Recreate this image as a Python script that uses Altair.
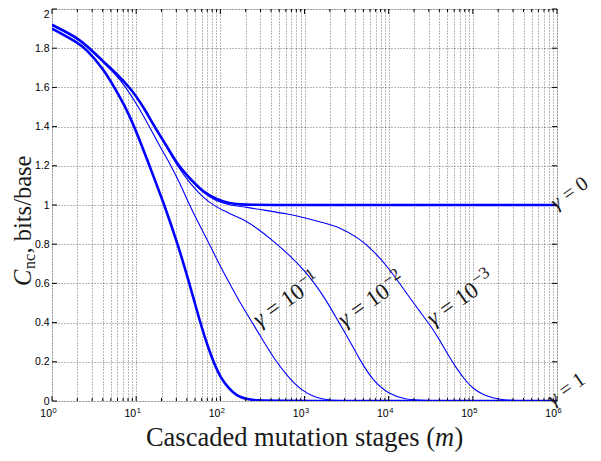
import altair as alt
import pandas as pd

# ---------------- data ----------------
# log10(m) positions and capacity values C_nc (bits/base) per curve
lg_g0 = [0, 0.301, 0.445, 0.602, 0.778, 0.92, 1.0, 1.1, 1.217, 1.35, 1.5, 1.65, 1.8, 1.95, 2.1, 2.3, 2.5, 6]
c_g0 = [1.92, 1.855, 1.80, 1.735, 1.665, 1.60, 1.555, 1.49, 1.40, 1.31, 1.20, 1.13, 1.065, 1.03, 1.008, 1.001, 1.0, 1.0]

lg_g3 = [0, 0.301, 0.445, 0.602, 0.778, 0.92, 1.0, 1.1, 1.217, 1.35, 1.5, 1.65, 1.8, 1.95, 2.1, 2.3, 2.5,
         2.82, 3.0, 3.216, 3.415, 3.65, 3.81, 4.0, 4.21, 4.40, 4.52, 4.60, 4.72, 4.80, 4.92, 5.0, 5.12, 5.31, 5.5, 6]
c_g3 = [1.92, 1.855, 1.80, 1.735, 1.665, 1.60, 1.555, 1.49, 1.40, 1.31, 1.20, 1.125, 1.06, 1.02, 1.0, 0.99, 0.975,
        0.953, 0.935, 0.91, 0.887, 0.83, 0.77, 0.68, 0.55, 0.44, 0.37, 0.315, 0.225, 0.17, 0.10, 0.065, 0.03, 0.008, 0.0, 0.0]

lg_g2 = [0, 0.301, 0.445, 0.602, 0.778, 0.92, 1.0, 1.1, 1.217, 1.35, 1.5, 1.65, 1.8, 1.95, 2.05, 2.167, 2.3, 2.425,
         2.62, 2.82, 3.0, 3.12, 3.25, 3.41, 3.534, 3.65, 3.81, 4.0, 4.2, 4.4, 6]
c_g2 = [1.92, 1.855, 1.80, 1.735, 1.665, 1.60, 1.555, 1.49, 1.40, 1.305, 1.19, 1.105, 1.035, 0.99, 0.97, 0.945, 0.92, 0.885,
        0.82, 0.745, 0.665, 0.60, 0.52, 0.40, 0.31, 0.215, 0.105, 0.035, 0.008, 0.0, 0.0]

lg_g1 = [0, 0.301, 0.477, 0.602, 0.778, 0.861, 1.0, 1.158, 1.3, 1.415, 1.52, 1.633, 1.75, 1.87, 1.99, 2.11, 2.25,
         2.40, 2.52, 2.64, 2.80, 2.96, 3.12, 3.3, 3.5, 6]
c_g1 = [1.915, 1.85, 1.785, 1.73, 1.655, 1.61, 1.52, 1.40, 1.285, 1.20, 1.11, 1.0, 0.90, 0.80, 0.695, 0.60, 0.49,
        0.385, 0.30, 0.215, 0.125, 0.055, 0.018, 0.003, 0.0, 0.0]

lg_gone = [0, 0.301, 0.406, 0.602, 0.742, 0.86, 0.98, 1.158, 1.336, 1.494, 1.633, 1.76, 1.85, 1.918, 2.0, 2.108,
           2.2, 2.3, 2.45, 2.6, 6]
c_gone = [1.90, 1.83, 1.795, 1.70, 1.60, 1.51, 1.40, 1.20, 1.0, 0.80, 0.60, 0.40, 0.28, 0.20, 0.12, 0.06,
          0.025, 0.01, 0.002, 0.0, 0.0]

series_names = ["gamma=0", "gamma=1e-3", "gamma=1e-2", "gamma=1e-1", "gamma=1"]
series_lg = [lg_g0, lg_g3, lg_g2, lg_g1, lg_gone]
series_c = [c_g0, c_g3, c_g2, c_g1, c_gone]
series_weight = ["thick", "thin", "thin", "thin", "thick"]

# curve labels
exp_labels = ["\u22121", "\u22122", "\u22123"]
exp_label_lg = [2.464, 3.474, 4.531]
exp_label_c = [0.375, 0.375, 0.382]
end_labels = ["= 0", "= 1"]
end_label_lg = [5.99, 5.955]
end_label_c = [0.975, -0.025]

# axes
decades = [1, 10, 100, 1000, 10000, 100000, 1000000]
decade_exp = ["0", "1", "2", "3", "4", "5", "6"]
minor_mult = [2, 3, 4, 5, 6, 7, 8, 9]
y_ticks = [0, 0.2, 0.4, 0.6, 0.8, 1, 1.2, 1.4, 1.6, 1.8, 2]

# ---------------- tables ----------------
rows = []
for name, lg, c, w in zip(series_names, series_lg, series_c, series_weight):
    for a, b in zip(lg, c):
        rows.append({"m": 10 ** a, "C": b, "series": name, "w": w})
df = pd.DataFrame(rows)

minor = [j * d for d in decades[:-1] for j in minor_mult]
grid_vals = sorted(decades + minor)
df_major = pd.DataFrame({"m": decades, "e": decade_exp})
df_minor = pd.DataFrame({"m": minor})
df_y = pd.DataFrame({"C": y_ticks})
df_exp = pd.DataFrame({"m": [10 ** v for v in exp_label_lg], "C": exp_label_c, "s": exp_labels})
df_end = pd.DataFrame({"m": [10 ** v for v in end_label_lg], "C": end_label_c, "s": end_labels})

# whole svg: 44 + 505 + 36 = 585 wide, 1 + 392 + 52 = 445 tall (fits inside the 8px page margins)
W, H = 505, 392
BLUE = "#0000ff"
SERIF = "Liberation Serif"
SANS = "Liberation Sans"
INK = "#1a1a1a"

xscale = alt.Scale(type="log", domain=[1, 1e6], nice=False)
yscale = alt.Scale(domain=[0, 2], nice=False, zero=False)
x_enc = alt.X("m:Q", scale=xscale,
              axis=alt.Axis(values=grid_vals, grid=True, labels=False, ticks=False, domain=False, title=None,
                            gridDash=[1, 2], gridColor="#000000", gridOpacity=0.55, gridWidth=1))
y_enc = alt.Y("C:Q", scale=yscale,
              axis=alt.Axis(values=y_ticks, grid=True, format="~g", labelFont=SANS, labelFontSize=10.5,
                            labelColor="#000000", labelPadding=3, ticks=False, domain=False, title=None,
                            labelBaseline=alt.condition("datum.value == 2", alt.value("top"), alt.value("middle")),
                            gridDash=[1, 2], gridColor="#000000", gridOpacity=0.55, gridWidth=1))

thin = alt.Chart(df).transform_filter(alt.datum.w == "thin").mark_line(
    color=BLUE, strokeWidth=1.1, interpolate="basis", clip=True
).encode(x=x_enc, y=y_enc, detail="series:N")
thick = alt.Chart(df).transform_filter(alt.datum.w == "thick").mark_line(
    color=BLUE, strokeWidth=2.6, interpolate="basis", clip=True
).encode(x=x_enc, y=y_enc, detail="series:N")

# inward ticks
tk = dict(color="#000000", strokeWidth=1)
bot_major = alt.Chart(df_major).mark_rule(**tk).encode(x=x_enc, y=alt.value(H), y2=alt.value(H - 5))
bot_minor = alt.Chart(df_minor).mark_rule(**tk).encode(x=x_enc, y=alt.value(H), y2=alt.value(H - 3))
top_major = alt.Chart(df_major).mark_rule(**tk).encode(x=x_enc, y=alt.value(0), y2=alt.value(5))
top_minor = alt.Chart(df_minor).mark_rule(**tk).encode(x=x_enc, y=alt.value(0), y2=alt.value(3))
left_t = alt.Chart(df_y).mark_rule(**tk).encode(y=y_enc, x=alt.value(0), x2=alt.value(5))
right_t = alt.Chart(df_y).mark_rule(**tk).encode(y=y_enc, x=alt.value(W), x2=alt.value(W - 5))

# x tick labels 10^k
ten = alt.Chart(df_major).mark_text(align="right", baseline="alphabetic", font=SANS, fontSize=10.5,
                                    color="#000000").encode(x=x_enc, y=alt.value(H + 16), text=alt.value("10"))
expo = alt.Chart(df_major).mark_text(align="left", baseline="alphabetic", font=SANS, fontSize=7.5, dx=0.5,
                                     color="#000000").encode(x=x_enc, y=alt.value(H + 11.5), text="e:N")

# axis titles
t_df = pd.DataFrame({"a": ["Cascaded mutation stages ("], "b": ["m"], "c": [")"],
                     "y1": ["C"], "y2": ["nc"], "y3": [", bits/base"]})
XA = W / 2 + 130.6
TY = H + 45
tx1 = alt.Chart(t_df).mark_text(align="right", baseline="alphabetic", font=SERIF, fontSize=26.5,
                                color=INK).encode(x=alt.value(XA), y=alt.value(TY), text="a:N")
tx2 = alt.Chart(t_df).mark_text(align="left", baseline="alphabetic", font=SERIF, fontSize=26.5, fontStyle="italic",
                                color=INK).encode(x=alt.value(XA), y=alt.value(TY), text="b:N")
tx3 = alt.Chart(t_df).mark_text(align="left", baseline="alphabetic", font=SERIF, fontSize=26.5,
                                color=INK).encode(x=alt.value(XA + 19.5), y=alt.value(TY), text="c:N")
YF = 24.5
YX, YY = -21.5, 277
ty1 = alt.Chart(t_df).mark_text(align="left", baseline="alphabetic", font=SERIF, fontSize=YF, fontStyle="italic",
                                angle=270, color=INK).encode(x=alt.value(YX), y=alt.value(YY), text="y1:N")
ty2 = alt.Chart(t_df).mark_text(align="left", baseline="alphabetic", font=SERIF, fontSize=16, angle=270,
                                dx=17, dy=4, color=INK).encode(x=alt.value(YX), y=alt.value(YY), text="y2:N")
ty3 = alt.Chart(t_df).mark_text(align="left", baseline="alphabetic", font=SERIF, fontSize=YF, angle=270,
                                dx=32.5, color=INK).encode(x=alt.value(YX), y=alt.value(YY), text="y3:N")

# curve labels (rotated)
LF = 23
ANG = 325
GW = 15.5
g_exp = alt.Chart(df_exp).mark_text(align="left", baseline="alphabetic", font=SERIF, fontSize=LF, fontStyle="italic",
                                    angle=ANG, color=INK).encode(x=x_enc, y=y_enc, text=alt.value("\u03b3"))
mid_exp = alt.Chart(df_exp).mark_text(align="left", baseline="alphabetic", font=SERIF, fontSize=LF, angle=ANG,
                                      dx=GW, color=INK).encode(x=x_enc, y=y_enc, text=alt.value("= 10"))
sup_exp = alt.Chart(df_exp).mark_text(align="left", baseline="alphabetic", font=SERIF, fontSize=17, angle=ANG,
                                      dx=GW + 1.814 * LF + 1, dy=-9, color=INK).encode(x=x_enc, y=y_enc, text="s:N")
EF = 20.5
EGW = 14
g_end = alt.Chart(df_end).mark_text(align="left", baseline="alphabetic", font=SERIF, fontSize=EF, fontStyle="italic",
                                    angle=ANG, color=INK).encode(x=x_enc, y=y_enc, text=alt.value("\u03b3"))
mid_end = alt.Chart(df_end).mark_text(align="left", baseline="alphabetic", font=SERIF, fontSize=EF, angle=ANG,
                                      dx=EGW, color=INK).encode(x=x_enc, y=y_enc, text="s:N")

chart = alt.layer(
    thin, thick, bot_major, bot_minor, top_major, top_minor, left_t, right_t,
    ten, expo, tx1, tx2, tx3, ty1, ty2, ty3,
    g_exp, mid_exp, sup_exp, g_end, mid_end,
).properties(
    width=W, height=H,
    autosize=alt.AutoSizeParams(type="none"),
    padding={"left": 44, "top": 1, "right": 36, "bottom": 52},
).configure_view(stroke="#000000", strokeWidth=1.2).configure(background="white")

chart.save("out.html", embed_options={"renderer": "svg", "actions": False})
